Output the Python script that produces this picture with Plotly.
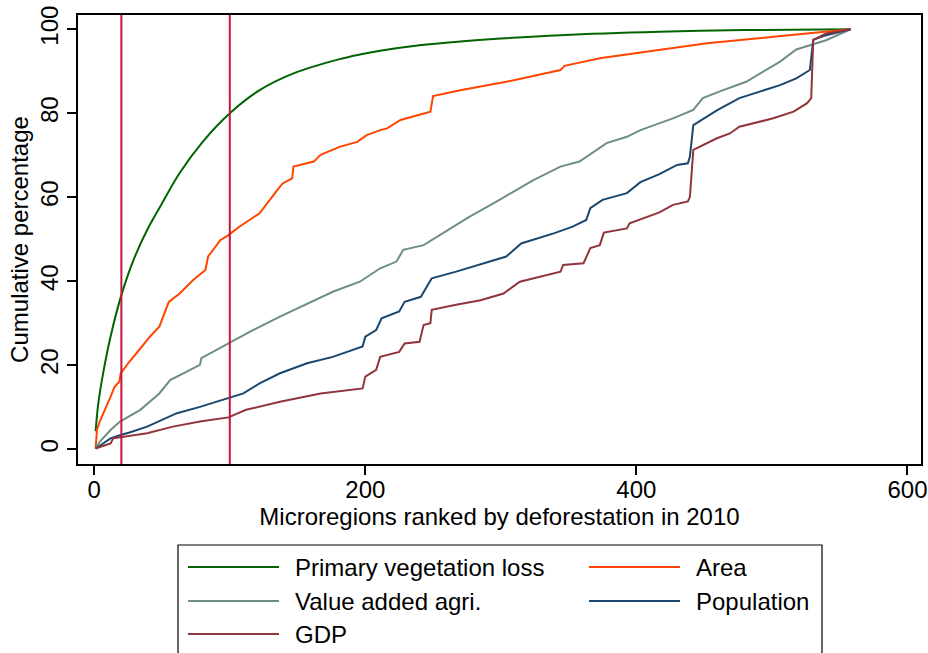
import plotly.graph_objects as go

# Cumulative shares of five indicators, microregions ranked by 2010 deforestation
veg_loss_x = [1, 3, 7, 12, 20, 29, 39, 49, 63, 80, 100, 122, 147, 181, 196, 211, 240, 270, 300, 344, 417, 480, 558]
veg_loss_y = [4.3, 11.0, 18.9, 26.8, 36.7, 45.1, 52.2, 58.0, 65.8, 73.2, 80.0, 85.5, 89.5, 92.9, 94.0, 94.9,
              96.2, 97.1, 97.8, 98.6, 99.4, 99.8, 100.0]

area_x = [1, 2, 4, 8, 12, 15, 18.5, 19.5, 26, 34, 41, 48, 50, 55, 63, 73, 82, 84, 93, 99, 107, 122,
          135, 139, 146, 147, 162, 167, 181, 194, 201, 211, 216, 226, 248, 250, 270, 304, 344, 347,
          373, 403, 417, 452, 501, 540, 558]
area_y = [0.2, 4.6, 6.6, 9.4, 12.5, 14.9, 16.1, 18.1, 20.9, 24.0, 26.8, 29.2, 30.8, 35.1, 37.1, 40.3,
          42.7, 45.9, 49.8, 51.0, 53.0, 56.2, 61.7, 63.3, 64.5, 67.3, 68.5, 70.1, 72.0, 73.2, 74.8,
          76.0, 76.4, 78.4, 80.4, 84.1, 85.5, 87.5, 90.3, 91.3, 93.1, 94.4, 95.1, 96.7, 98.2, 99.4, 100.0]

agri_x = [1, 4, 12, 19, 34, 48, 56, 71, 78, 79, 99, 115, 137, 162, 176, 196, 211, 223, 228, 243, 255,
          277, 299, 324, 344, 358, 378, 393, 403, 427, 442, 449, 464, 481, 506, 518, 540, 558]
agri_y = [0.2, 1.8, 4.6, 6.6, 9.4, 13.3, 16.5, 18.9, 20.1, 21.7, 25.2, 28.0, 31.6, 35.5, 37.5, 39.9,
          43.1, 44.7, 47.5, 48.6, 51.0, 55.4, 59.4, 64.1, 67.3, 68.5, 72.9, 74.4, 76.0, 78.8, 80.8,
          83.6, 85.5, 87.5, 92.3, 95.2, 97.4, 100.0]

pop_x = [1, 12, 19.5, 26, 39, 61, 78, 99, 110, 122, 137, 157, 176, 198, 200, 208, 212, 225, 229, 241,
         249, 267, 304, 315, 339, 353, 363, 366, 375, 393, 403, 417, 430, 438, 439.5, 442, 460, 476,
         506, 518, 528, 530.5, 540, 558]
pop_y = [0.2, 2.6, 3.4, 4.0, 5.4, 8.6, 10.1, 12.3, 13.3, 15.7, 18.1, 20.5, 22.0, 24.5, 26.8, 28.4,
         31.2, 32.8, 35.1, 36.3, 40.7, 42.3, 45.9, 49.0, 51.4, 53.0, 54.6, 57.4, 59.4, 61.0, 63.6,
         65.5, 67.7, 68.1, 69.7, 77.2, 80.8, 83.6, 86.7, 88.3, 90.3, 97.5, 98.6, 100.0]

gdp_x = [1, 12, 14, 19.5, 39, 58, 78, 99, 112, 137, 167, 198, 200, 208, 211, 225, 229, 240, 243, 248,
         249, 267, 285, 302, 314, 344, 346, 361, 366, 373, 376, 393, 395, 417, 427, 438, 439.5, 442,
         459, 469, 476, 501, 516, 526, 529, 530.5, 540, 558]
gdp_y = [0.2, 1.4, 2.6, 2.9, 3.8, 5.4, 6.6, 7.6, 9.4, 11.3, 13.3, 14.5, 17.3, 18.9, 22.0, 23.2, 25.2,
         25.6, 29.6, 30.0, 33.2, 34.4, 35.5, 37.1, 39.9, 42.3, 43.9, 44.3, 47.9, 48.6, 51.6, 52.6,
         53.8, 56.4, 58.2, 59.0, 60.1, 71.3, 74.0, 75.2, 76.8, 78.8, 80.4, 82.4, 83.6, 97.5, 99.0, 100.0]

ref_lines_x = [20, 100]

x_ticks = [0, 200, 400, 600]
y_ticks = [0, 20, 40, 60, 80, 100]

series = [
    ("Primary vegetation loss", veg_loss_x, veg_loss_y, "#006400", "spline"),
    ("Area", area_x, area_y, "#FF4500", "linear"),
    ("Value added agri.", agri_x, agri_y, "#6E8E84", "linear"),
    ("Population", pop_x, pop_y, "#1A476F", "linear"),
    ("GDP", gdp_x, gdp_y, "#90353B", "linear"),
]

W, H = 928, 653
M_L, M_R, M_T, M_B = 78, 7, 15, 189
PLOT_W = W - M_L - M_R
PLOT_H = H - M_T - M_B


def paper_x(px):
    return (px - M_L) / PLOT_W


def paper_y(py):
    return (H - M_B - py) / PLOT_H


FONT = "Liberation Sans, Arial, sans-serif"

fig = go.Figure()
for name, xs, ys, color, shape in series:
    fig.add_trace(go.Scatter(x=xs, y=ys, mode="lines", name=name,
                             line=dict(color=color, width=2, shape=shape)))

for xv in ref_lines_x:
    fig.add_shape(type="line", xref="x", yref="paper", x0=xv, x1=xv, y0=0, y1=1,
                  line=dict(color="#C8143C", width=2))

# Legend box, two columns, drawn below the axis title
fig.add_shape(type="rect", xref="paper", yref="paper",
              x0=paper_x(178), x1=paper_x(822), y0=paper_y(545), y1=paper_y(720),
              line=dict(color="black", width=1.2), fillcolor="rgba(0,0,0,0)")
slots = [(188, 567), (589, 567), (188, 601), (589, 601), (188, 634)]
for (name, _, _, color, _), (lx, ly) in zip(series, slots):
    fig.add_shape(type="line", xref="paper", yref="paper",
                  x0=paper_x(lx), x1=paper_x(lx + 91), y0=paper_y(ly), y1=paper_y(ly),
                  line=dict(color=color, width=2))
    fig.add_annotation(text=name, xref="paper", yref="paper", x=paper_x(lx + 105), y=paper_y(ly),
                       xanchor="left", yanchor="middle", showarrow=False,
                       font=dict(family=FONT, size=24, color="black"))

axis_common = dict(showgrid=False, zeroline=False, showline=True, mirror=True,
                   linecolor="black", linewidth=1.5, ticks="outside", ticklen=9,
                   tickwidth=1.5, tickcolor="black",
                   tickfont=dict(family=FONT, size=24, color="black"))

fig.update_xaxes(range=[-12, 610], tickvals=x_ticks, ticklabelstandoff=-6,
                 title=dict(text="Microregions ranked by deforestation in 2010",
                            font=dict(family=FONT, size=24, color="black"), standoff=6),
                 **axis_common)
fig.update_yaxes(range=[-3.5, 103.4], tickvals=y_ticks, tickangle=-90,
                 title=dict(text="Cumulative percentage",
                            font=dict(family=FONT, size=24, color="black"), standoff=0),
                 **axis_common)

fig.update_layout(width=W, height=H, showlegend=False,
                  margin=dict(l=M_L, r=M_R, t=M_T, b=M_B, autoexpand=False),
                  paper_bgcolor="white", plot_bgcolor="white",
                  font=dict(family=FONT, size=24, color="black"))

fig.write_html("out.html")
